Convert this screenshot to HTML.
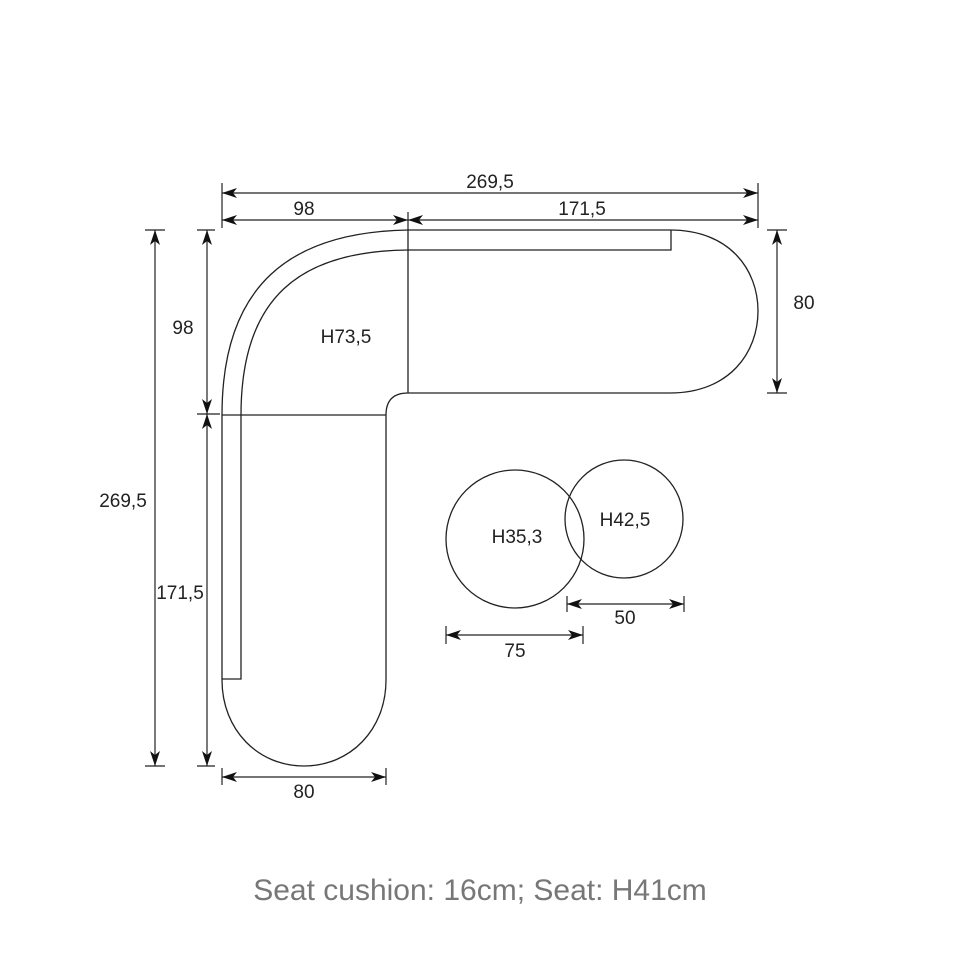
<!DOCTYPE html>
<html><head><style>html,body{margin:0;padding:0;background:#fff}svg{display:block}</style></head><body>
<svg width="960" height="960" viewBox="0 0 960 960" xmlns="http://www.w3.org/2000/svg" font-family="Liberation Sans, sans-serif">
<defs>
<marker id="a" viewBox="0 0 15 10" refX="15" refY="5" markerWidth="15" markerHeight="10" orient="auto-start-reverse" markerUnits="userSpaceOnUse"><path d="M0,0 L15,5 L0,10 L4,5 Z" fill="#111"/></marker>
</defs>
<g fill="none" stroke="#222" stroke-width="1.3">
<path d="M222,415 C222,285 290,232 408,230 L670,230 C730,230 758,270 758,311 C758,352 730,393 670,393 L408,393 Q386,393 386,415 L386,680 C386,730 350,766 304,766 C258,766 222,730 222,680 Z"/>
<path d="M241,415 C241,297 300,251 408,250 L671,250 L671,230"/>
<path d="M241,415 L241,679 L222,679"/>
<line x1="408" y1="230" x2="408" y2="393"/>
<line x1="222" y1="415" x2="386" y2="415"/>
<circle cx="515" cy="539" r="69"/>
<circle cx="624" cy="519" r="59"/>
</g>
<g stroke="#222" stroke-width="1.2" fill="none">
<line x1="222" y1="183" x2="222" y2="228"/>
<line x1="758" y1="183" x2="758" y2="228"/>
<line x1="408" y1="212" x2="408" y2="230"/>
<line x1="222" y1="193" x2="758" y2="193" marker-start="url(#a)" marker-end="url(#a)"/>
<line x1="222" y1="220" x2="408" y2="220" marker-start="url(#a)" marker-end="url(#a)"/>
<line x1="408" y1="220" x2="758" y2="220" marker-start="url(#a)" marker-end="url(#a)"/>
<line x1="767" y1="230" x2="787" y2="230"/>
<line x1="767" y1="393" x2="787" y2="393"/>
<line x1="777" y1="230" x2="777" y2="393" marker-start="url(#a)" marker-end="url(#a)"/>
<line x1="145" y1="230" x2="165" y2="230"/>
<line x1="145" y1="766" x2="165" y2="766"/>
<line x1="155" y1="230" x2="155" y2="766" marker-start="url(#a)" marker-end="url(#a)"/>
<line x1="197" y1="230" x2="215" y2="230"/>
<line x1="197" y1="414" x2="220" y2="414"/>
<line x1="197" y1="766" x2="215" y2="766"/>
<line x1="207" y1="230" x2="207" y2="414" marker-start="url(#a)" marker-end="url(#a)"/>
<line x1="207" y1="414" x2="207" y2="766" marker-start="url(#a)" marker-end="url(#a)"/>
<line x1="222" y1="768" x2="222" y2="785"/>
<line x1="386" y1="768" x2="386" y2="785"/>
<line x1="222" y1="777" x2="386" y2="777" marker-start="url(#a)" marker-end="url(#a)"/>
<line x1="567" y1="596" x2="567" y2="612"/>
<line x1="684" y1="596" x2="684" y2="612"/>
<line x1="567" y1="604" x2="684" y2="604" marker-start="url(#a)" marker-end="url(#a)"/>
<line x1="446" y1="626" x2="446" y2="644"/>
<line x1="583" y1="626" x2="583" y2="644"/>
<line x1="446" y1="635" x2="583" y2="635" marker-start="url(#a)" marker-end="url(#a)"/>
</g>
<g fill="#222" font-size="19" text-anchor="middle">
<text x="490" y="188">269,5</text>
<text x="304" y="215">98</text>
<text x="582" y="215">171,5</text>
<text x="804" y="309">80</text>
<text x="123" y="507">269,5</text>
<text x="183" y="334">98</text>
<text x="180" y="599">171,5</text>
<text x="304" y="798">80</text>
<text x="346" y="343">H73,5</text>
<text x="517" y="543">H35,3</text>
<text x="625" y="526">H42,5</text>
<text x="625" y="624">50</text>
<text x="515" y="657">75</text>
</g>
<text x="480" y="900" text-anchor="middle" font-size="30" fill="#777">Seat cushion: 16cm; Seat: H41cm</text>
</svg>
</body></html>
